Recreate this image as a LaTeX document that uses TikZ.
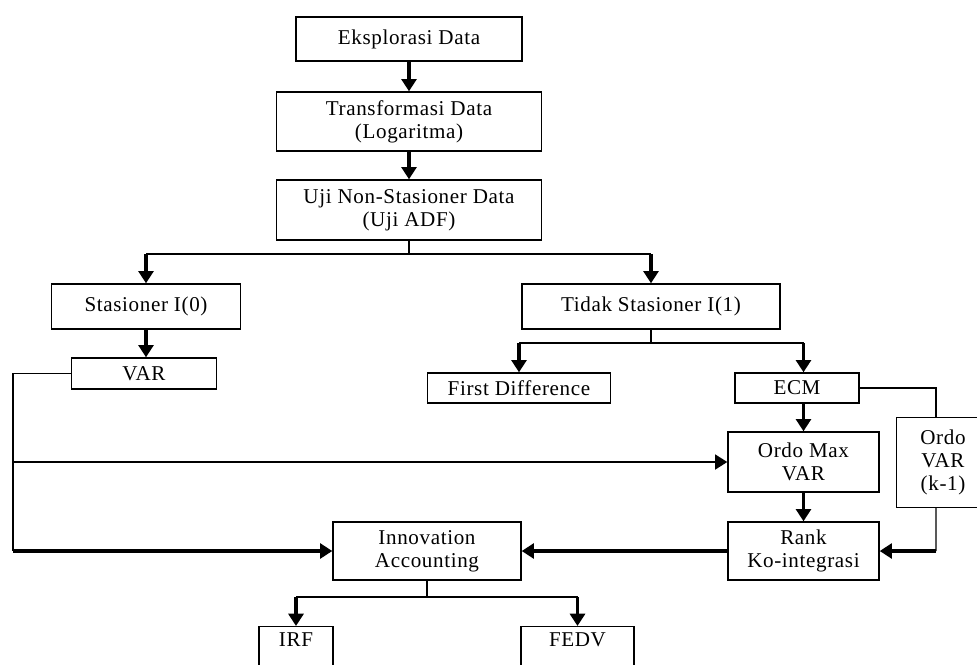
\documentclass[tikz,border=0pt]{standalone}
\usepackage{fontspec}
\setmainfont[LetterSpace=3]{Liberation Serif}
\usetikzlibrary{arrows.meta}
\tikzset{
  box/.style={draw, line width=0.8pt, inner sep=0pt, align=center, font=\fontsize{12}{13}\selectfont},
  ln/.style={line width=0.8pt},
  arr/.style={line width=1.8pt, -{Triangle[length=7pt,width=8.5pt]}},
}
\begin{document}
\begin{tikzpicture}[x=0.02cm, y=-0.02cm]
\useasboundingbox (0,0) rectangle (977,664);
\clip (0,0) rectangle (977,664);
% boxes
\node[box, minimum width=4.52cm, minimum height=0.88cm] (eks) at (409,39) {Eksplorasi Data};
\node[box, minimum width=5.30cm, minimum height=1.18cm] (trans) at (409,121.5) {Transformasi Data\\(Logaritma)};
\node[box, minimum width=5.30cm, minimum height=1.20cm] (uji) at (409,210) {Uji Non-Stasioner Data\\(Uji ADF)};
\node[box, minimum width=3.78cm, minimum height=0.90cm] (stas) at (146,306.5) {Stasioner I(0)};
\node[box, minimum width=5.16cm, minimum height=0.90cm] (tidak) at (651,306.5) {Tidak Stasioner I(1)};
\node[box, minimum width=2.90cm, minimum height=0.62cm] (var) at (144,373.5) {VAR};
\node[box, minimum width=3.66cm, minimum height=0.60cm] (fd) at (519,388) {First Difference};
\node[box, minimum width=2.48cm, minimum height=0.60cm] (ecm) at (797,388) {ECM};
\node[box, minimum width=3.02cm, minimum height=1.20cm] (ordomax) at (803.5,462) {Ordo Max\\VAR};
\node[box, draw=none, minimum width=1.84cm, minimum height=1.78cm] (ordovar) at (943,462.5) {Ordo\\VAR\\(k-1)};
\draw[line width=0.8pt] ([xshift=2cm]ordovar.north west) -- (ordovar.north west) -- (ordovar.south west) -- ++(2cm,0);
\node[box, minimum width=3.02cm, minimum height=1.16cm] (rank) at (803.5,551) {Rank\\Ko-integrasi};
\node[box, minimum width=3.76cm, minimum height=1.16cm] (innov) at (427,551) {Innovation\\Accounting};
\node[box, anchor=north, minimum width=1.48cm, text height=0.40cm, text depth=1cm] (irf) at (296,626) {IRF};
\node[box, anchor=north, minimum width=2.26cm, text height=0.40cm, text depth=1cm] (fedv) at (577.5,626) {FEDV};
% main column
\draw[arr] (eks.south) -- (trans.north);
\draw[arr] (trans.south) -- (uji.north);
\coordinate (ujisplit) at (409,254);
\draw[ln] (uji.south) -- (ujisplit);
\draw[ln] (stas.north |- ujisplit) -- (tidak.north |- ujisplit);
\draw[arr] (stas.north |- ujisplit) -- (stas.north);
\draw[arr] (tidak.north |- ujisplit) -- (tidak.north);
\draw[arr] (stas.south) -- (stas.south |- var.north);
% non-stationary branch
\coordinate (tidaksplit) at (651,343);
\draw[ln] (tidak.south) -- (tidaksplit);
\draw[ln] (fd.north |- tidaksplit) -- (ordomax.north |- tidaksplit);
\draw[arr] (fd.north |- tidaksplit) -- (fd.north);
\draw[arr] (ordomax.north |- tidaksplit) -- (ordomax.north |- ecm.north);
\draw[arr] (ordomax.north |- ecm.south) -- (ordomax.north);
\draw[arr] (ordomax.south) -- (rank.north);
\draw[ln] (ecm.east) -| ([xshift=-0.14cm]ordovar.north);
\coordinate (ovb) at (936,551);
\draw[ln] ([xshift=-0.14cm]ordovar.south) -- (ovb);
\draw[arr] (ovb) -- (rank.east);
\draw[arr] (rank.west) -- (innov.east);
% VAR loop on the left
\coordinate (vm) at (13,462);
\coordinate (vb) at (13,551);
\draw[ln] (var.west) -| (vb);
\draw[arr, line width=1.2pt] (vm) -- (ordomax.west);
\draw[arr] (vb) -- (innov.west);
% innovation accounting
\coordinate (innovsplit) at (427,597);
\draw[ln] (innov.south) -- (innovsplit);
\draw[ln] (irf.north |- innovsplit) -- (fedv.north |- innovsplit);
\draw[arr] (irf.north |- innovsplit) -- (irf.north);
\draw[arr] (fedv.north |- innovsplit) -- (fedv.north);
\end{tikzpicture}
\end{document}
